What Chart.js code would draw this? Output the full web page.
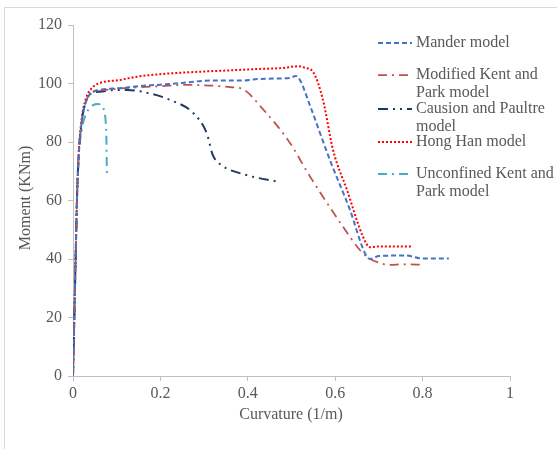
<!DOCTYPE html>
<html>
<head>
<meta charset="utf-8">
<script src="https://cdn.jsdelivr.net/npm/chart.js@4"></script>
<style>
  html, body { margin: 0; padding: 0; background: #fff; }
  #wrap { width: 557px; height: 449px; }
</style>
</head>
<body>
<div id="wrap"><canvas id="momentChart" width="557" height="449"></canvas></div>
<script>
// Moment-curvature curves, values
const manderX = [0, 0.003, 0.006, 0.009, 0.013, 0.02, 0.03, 0.04, 0.06, 0.107, 0.15, 0.2, 0.25, 0.313, 0.35, 0.39, 0.412, 0.46, 0.497, 0.51, 0.52, 0.542, 0.588, 0.634, 0.668, 0.68, 0.7, 0.76, 0.8, 0.86];
const manderY = [0, 20, 40, 60, 75, 87, 94, 96.5, 97.8, 98.4, 99.1, 99.6, 100.2, 101, 101, 101, 101.4, 101.7, 101.9, 102.6, 101, 92.6, 73.8, 56.7, 42, 40, 41, 41.2, 40.2, 40.2];

const kentX = [0, 0.003, 0.006, 0.009, 0.013, 0.02, 0.03, 0.04, 0.06, 0.085, 0.15, 0.2, 0.26, 0.313, 0.36, 0.39, 0.43, 0.497, 0.535, 0.572, 0.618, 0.657, 0.68, 0.703, 0.72, 0.76, 0.8];
const kentY = [0, 20, 40, 60, 75, 87, 94, 96.5, 97.5, 98, 98.7, 99.1, 99.5, 99.3, 98.8, 98, 92, 79.6, 70, 61.3, 51, 43, 40, 38.6, 38, 38.2, 38];

const causionX = [0, 0.003, 0.006, 0.009, 0.013, 0.02, 0.03, 0.04, 0.062, 0.1, 0.124, 0.176, 0.222, 0.275, 0.306, 0.32, 0.336, 0.397, 0.47];
const causionY = [0, 20, 40, 60, 75, 87, 94, 96.5, 97.2, 97.8, 97.8, 96.6, 94.4, 89.9, 83, 75.5, 72.5, 68.7, 66.4];

const hongX = [0, 0.003, 0.006, 0.009, 0.013, 0.02, 0.03, 0.046, 0.062, 0.107, 0.15, 0.2, 0.313, 0.36, 0.428, 0.48, 0.505, 0.515, 0.53, 0.55, 0.572, 0.595, 0.627, 0.664, 0.68, 0.7, 0.775];
const hongY = [0, 20, 40, 60, 76, 88, 95, 98.8, 100.2, 101.2, 102.4, 103.2, 104.2, 104.5, 105, 105.3, 105.8, 105.9, 105.4, 103.8, 94.4, 77.3, 63.6, 47.5, 44, 44.3, 44.3];

const unconfX = [0, 0.003, 0.006, 0.011, 0.02, 0.027, 0.035, 0.046, 0.056, 0.066, 0.072, 0.075, 0.0765, 0.0775];
const unconfY = [0, 20, 40, 70, 84, 88.5, 91, 92.6, 93, 92.6, 90, 86.5, 80, 69];

const xTicks = [0, 0.2, 0.4, 0.6, 0.8, 1];
const yTicks = [0, 20, 40, 60, 80, 100, 120];

const textColor = '#595959';
const serif = "'Liberation Serif', 'Times New Roman', serif";

function pts(xs, ys) {
    return xs.map((x, i) => ({ x: x, y: ys[i] }));
}

// legend rows: label lines and the y of the sample line
const legendRows = [
    { lines: ['Mander model'], y: 43 },
    { lines: ['Modified Kent and', 'Park model'], y: 75 },
    { lines: ['Causion and Paultre', 'model'], y: 109 },
    { lines: ['Hong Han model'], y: 142 },
    { lines: ['Unconfined Kent and', 'Park model'], y: 174 }
];

const series = [
    { label: 'Mander model', data: pts(manderX, manderY), color: '#4472C4', dash: [5, 3], width: 2 },
    { label: 'Modified Kent and Park model', data: pts(kentX, kentY), color: '#C0504D', dash: [9, 5, 2, 5], width: 1.75 },
    { label: 'Causion and Paultre model', data: pts(causionX, causionY), color: '#1F3864', dash: [10, 5, 2, 5, 2, 5], width: 2 },
    { label: 'Hong Han model', data: pts(hongX, hongY), color: '#FF0000', dash: [2, 2], width: 2 },
    { label: 'Unconfined Kent and Park model', data: pts(unconfX, unconfY), color: '#4BACC6', dash: [9, 5, 2, 5], width: 2 }
];

// frame, axis titles and the legend drawn on the canvas
const decorPlugin = {
    id: 'decor',
    beforeDraw(chart) {
        const ctx = chart.ctx;
        ctx.save();
        ctx.fillStyle = '#fff';
        ctx.fillRect(0, 0, chart.width, chart.height);
        ctx.strokeStyle = '#D9D9D9';
        ctx.lineWidth = 1;
        ctx.strokeRect(4.5, 7.5, chart.width + 10, chart.height + 10);
        ctx.restore();
    },
    afterDraw(chart) {
        const ctx = chart.ctx;
        ctx.save();
        ctx.fillStyle = textColor;
        ctx.font = '16px ' + serif;
        ctx.textBaseline = 'middle';
        ctx.textAlign = 'center';
        ctx.fillText('Curvature (1/m)', 291, 415);
        ctx.translate(26, 198);
        ctx.rotate(-Math.PI / 2);
        ctx.fillText('Moment (KNm)', 0, 0);
        ctx.restore();

        ctx.save();
        ctx.font = '16px ' + serif;
        ctx.textBaseline = 'middle';
        ctx.textAlign = 'left';
        legendRows.forEach((row, i) => {
            const s = series[i];
            ctx.strokeStyle = s.color;
            ctx.lineWidth = s.width;
            ctx.setLineDash(s.dash);
            ctx.beginPath();
            ctx.moveTo(378, row.y);
            ctx.lineTo(412, row.y);
            ctx.stroke();
            ctx.fillStyle = textColor;
            row.lines.forEach((t, j) => ctx.fillText(t, 416, row.y + j * 18));
        });
        ctx.restore();
    }
};

new Chart(document.getElementById('momentChart'), {
    type: 'scatter',
    data: {
        datasets: series.map(s => ({
            label: s.label,
            data: s.data,
            showLine: true,
            borderColor: s.color,
            backgroundColor: s.color,
            borderWidth: s.width,
            borderDash: s.dash,
            pointRadius: 0,
            cubicInterpolationMode: 'monotone',
            fill: false
        }))
    },
    options: {
        responsive: false,
        animation: false,
        layout: { padding: { top: 25, right: 47, left: 0, bottom: 0 } },
        plugins: {
            legend: { display: false },
            tooltip: { enabled: false }
        },
        scales: {
            x: {
                type: 'linear',
                min: 0,
                max: 1,
                afterFit(scale) { scale.height = 73; },
                afterBuildTicks(scale) { scale.ticks = xTicks.map(v => ({ value: v })); },
                border: { color: '#BFBFBF', width: 1 },
                grid: { drawOnChartArea: false, drawTicks: true, tickLength: 5, color: '#BFBFBF' },
                ticks: { color: textColor, font: { family: serif, size: 16 }, padding: 3, maxRotation: 0,
                    callback: v => String(v) }
            },
            y: {
                type: 'linear',
                min: 0,
                max: 120,
                afterFit(scale) { scale.width = 73; },
                afterBuildTicks(scale) { scale.ticks = yTicks.map(v => ({ value: v })); },
                border: { color: '#BFBFBF', width: 1 },
                grid: { drawOnChartArea: false, drawTicks: true, tickLength: 5, color: '#BFBFBF' },
                ticks: { color: textColor, font: { family: serif, size: 16 }, padding: 6 }
            }
        }
    },
    plugins: [decorPlugin]
});
</script>
</body>
</html>
